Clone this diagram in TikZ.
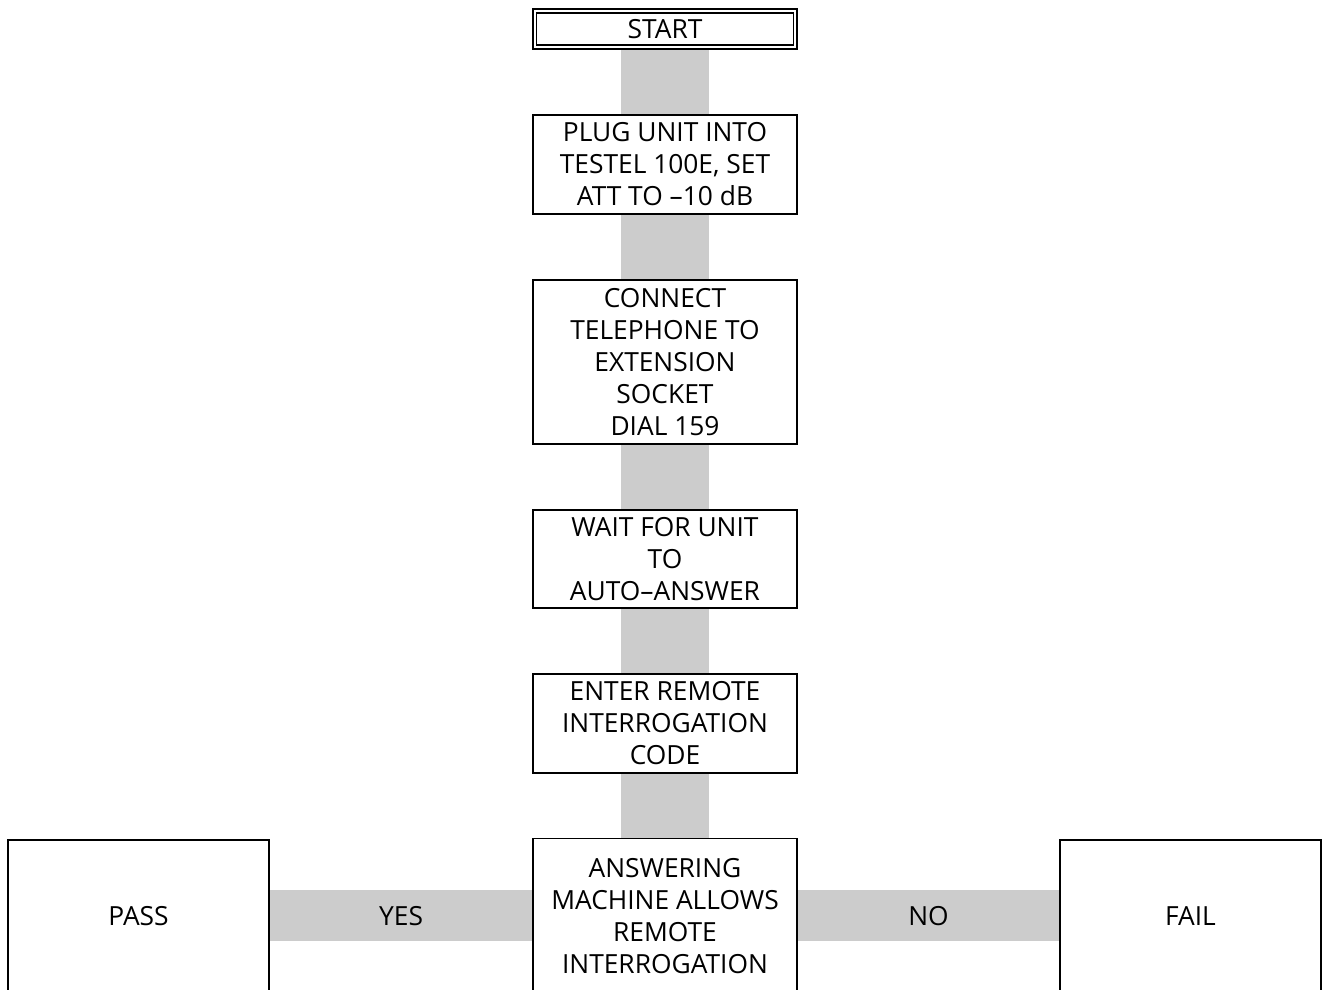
\documentclass[tikz,border=0pt]{standalone}
\usepackage{fontspec}
\setmainfont{Open Sans}
\usetikzlibrary{positioning,backgrounds}

\tikzset{
    stepbox/.style={draw, line width=1.1pt, minimum width=5.28cm, align=center,
                    inner sep=0pt, font=\fontsize{15}{18.2}\selectfont},
    startbox/.style={stepbox, double=white, double distance=1.2pt, line width=0.9pt,
                    minimum width=5.21cm, minimum height=0.72cm},
    endbox/.style={stepbox, minimum width=5.22cm, minimum height=3.04cm},
    link/.style={line width=1.76cm, draw=black!20},
    branch/.style={line width=1.02cm, draw=black!20},
    branchtext/.style={text=black, font=\fontsize{15}{18.2}\selectfont}
}

\begin{document}
\begin{tikzpicture}[node distance=1.28cm]
                \useasboundingbox (0,0) rectangle (26.46,-19.8);

                \node[startbox] (start) at (13.3,-0.58) {START};
                \node[stepbox, minimum height=1.98cm, below=1.32cm of start] (plug)
                    {PLUG UNIT INTO\\TESTEL 100E, SET\\ATT TO –10 dB};
                \node[stepbox, minimum height=3.28cm, below=of plug] (connect)
                    {CONNECT\\TELEPHONE TO\\EXTENSION\\SOCKET\\DIAL 159};
                \node[stepbox, minimum height=1.96cm, below=of connect] (wait)
                    {WAIT FOR UNIT\\TO\\AUTO–ANSWER};
                \node[stepbox, minimum height=1.98cm, below=of wait] (enter)
                    {ENTER REMOTE\\INTERROGATION\\CODE};
                \node[stepbox, minimum height=3.1cm, below=of enter] (answer)
                    {ANSWERING\\MACHINE ALLOWS\\REMOTE\\INTERROGATION};

                \node[endbox, left=5.24cm of answer] (pass) {PASS};
                \node[endbox, right=5.22cm of answer] (fail) {FAIL};

                \begin{scope}[on background layer]
                    \draw[link] (start.south) -- (plug.north);
                    \draw[link] (plug.south) -- (connect.north);
                    \draw[link] (connect.south) -- (wait.north);
                    \draw[link] (wait.south) -- (enter.north);
                    \draw[link] (enter.south) -- (answer.north);
                    \draw[branch] (answer.west) -- node[branchtext] {YES} (pass.east);
                    \draw[branch] (answer.east) -- node[branchtext] {NO} (fail.west);
                \end{scope}
            \end{tikzpicture}
\end{document}
